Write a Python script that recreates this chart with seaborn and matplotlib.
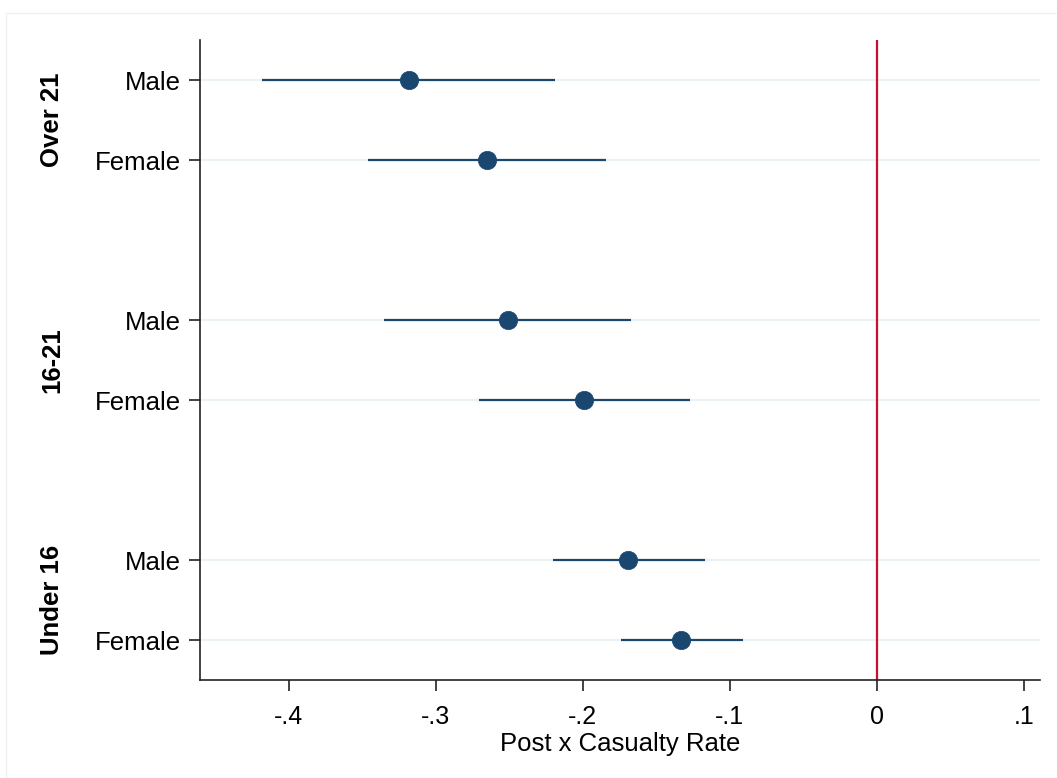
import numpy as np
import pandas as pd
import matplotlib.pyplot as plt
import seaborn as sns
from matplotlib.patches import Rectangle
from matplotlib.transforms import blended_transform_factory

# Coefficients
groups = ['Over 21', '16-21', 'Under 16']
sexes = ['Male', 'Female']
coef = [-0.318, -0.265, -0.251, -0.199, -0.169, -0.133]
ci_low = [-0.418, -0.346, -0.335, -0.271, -0.220, -0.174]
ci_high = [-0.219, -0.184, -0.167, -0.127, -0.117, -0.091]
xticks = [-0.4, -0.3, -0.2, -0.1, 0, 0.1]
xtick_labels = ['-.4', '-.3', '-.2', '-.1', '0', '.1']

navy = '#1a476f'
red = '#c8102e'

# Build table: y position = group block + row inside block
rows = []
for g_i, g in enumerate(groups):
    for s_i, s in enumerate(sexes):
        k = g_i * 2 + s_i
        rows.append({'group': g, 'sex': s, 'pos': g_i * 3 + s_i + 1,
                     'coef': coef[k], 'lo': ci_low[k], 'hi': ci_high[k]})
df = pd.DataFrame(rows)

sns.set_style('white')
plt.rcParams['font.family'] = ['Liberation Sans', 'DejaVu Sans']
plt.rcParams['text.color'] = 'black'
plt.rcParams['xtick.color'] = 'black'
plt.rcParams['ytick.color'] = 'black'
plt.rcParams['axes.labelcolor'] = 'black'

fig = plt.figure(figsize=(10.57, 7.78), dpi=100)
ax = fig.add_axes([200 / 1057, 1 - 680 / 778, 840 / 1057, 640 / 778])

# light horizontal grid at each row
for p in df['pos']:
    ax.axhline(p, color='#eaf2f3', lw=1.6, zorder=0)

ax.axvline(0, color=red, lw=1.6, zorder=1)

ax.hlines(df['pos'], df['lo'], df['hi'], color=navy, lw=1.6, zorder=2)
sns.scatterplot(data=df, x='coef', y='pos', ax=ax, color=navy, s=175,
                edgecolor=navy, linewidth=0.5, zorder=3, legend=False)

ax.set_xlim(-0.4605, 0.111)
ax.set_ylim(8.5, 0.5)
ax.set_xticks(xticks)
ax.set_xticklabels(xtick_labels, fontsize=18)
ax.set_yticks(df['pos'])
ax.set_yticklabels(df['sex'], fontsize=18.5)
ax.tick_params(axis='both', bottom=True, left=True, direction='out',
               length=8, width=1.2, color='#222222', pad=6)
ax.tick_params(axis='x', pad=10)

ax.set_xlabel('Post x Casualty Rate', fontsize=18.5, labelpad=2)
ax.set_ylabel('')

for side in ['top', 'right']:
    ax.spines[side].set_visible(False)
for side in ['left', 'bottom']:
    ax.spines[side].set_color('#222222')
    ax.spines[side].set_linewidth(1.2)

# group labels on the left
trans = blended_transform_factory(fig.transFigure, ax.transData)
for g_i, g in enumerate(groups):
    ax.text(52 / 1057, g_i * 3 + 1.5, g, transform=trans, rotation=90,
            ha='center', va='center', fontsize=18.5, fontweight='bold')

# faint outer frame
fig.add_artist(Rectangle((6 / 1057, -0.1), 1.2, 1 - 13 / 778 + 0.1,
                         transform=fig.transFigure, fill=False,
                         edgecolor='#eef2f2', lw=1))

fig.savefig('out.png', dpi=100)
